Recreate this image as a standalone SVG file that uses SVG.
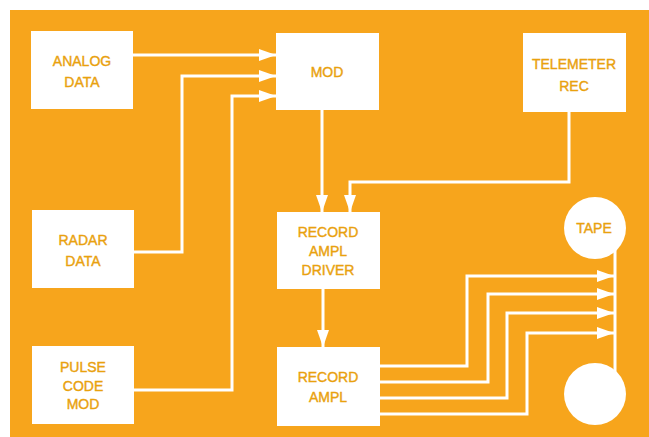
<svg xmlns="http://www.w3.org/2000/svg" width="649" height="437" viewBox="0 0 649 437">
  <defs>
    <style>
      .bg { fill: #F7A51C; }
      .box { fill: #FFFFFF; }
      .lbl { font-family: "Liberation Sans", "DejaVu Sans", sans-serif; font-size: 14px; fill: #E9A10E; stroke: #E9A10E; stroke-width: 0.4; text-anchor: middle; }
      .wire { fill: none; stroke: #FFFFFF; stroke-width: 3; stroke-linejoin: miter; }
    </style>
    <marker id="arr" markerUnits="userSpaceOnUse" markerWidth="18" markerHeight="12" refX="17" refY="6" orient="auto">
      <path d="M0,0 L17,6 L0,12 z" fill="#FFFFFF"/>
    </marker>
  </defs>

  <rect x="0" y="0" width="649" height="437" fill="#FFFFFF"/>
  <rect class="bg" x="10" y="10" width="639" height="427"/>

  <g id="connectors">
    <path class="wire" d="M133,55 H276" marker-end="url(#arr)"/>
    <path class="wire" d="M134,252 H182 V76 H276" marker-end="url(#arr)"/>
    <path class="wire" d="M134,390 H232 V96 H276" marker-end="url(#arr)"/>
    <path class="wire" d="M322,110 V212" marker-end="url(#arr)"/>
    <path class="wire" d="M569,112 V182 H350 V212" marker-end="url(#arr)"/>
    <path class="wire" d="M323,289 V347" marker-end="url(#arr)"/>
    <path class="wire" d="M380,366 H467 V276 H614" marker-end="url(#arr)"/>
    <path class="wire" d="M380,382 H488 V294 H614" marker-end="url(#arr)"/>
    <path class="wire" d="M380,398 H507 V313 H614" marker-end="url(#arr)"/>
    <path class="wire" d="M380,414 H527 V333 H614" marker-end="url(#arr)"/>
    <path class="wire" d="M615,250 V372"/>
  </g>

  <g id="analog-data">
    <rect class="box" x="31" y="31" width="102" height="78"/>
    <text class="lbl" x="82" y="66">ANALOG</text>
    <text class="lbl" x="82" y="87">DATA</text>
  </g>

  <g id="radar-data">
    <rect class="box" x="32" y="210" width="102" height="78"/>
    <text class="lbl" x="83" y="245">RADAR</text>
    <text class="lbl" x="83" y="266">DATA</text>
  </g>

  <g id="pulse-code-mod">
    <rect class="box" x="32" y="346" width="102" height="78"/>
    <text class="lbl" x="83" y="372">PULSE</text>
    <text class="lbl" x="83" y="391">CODE</text>
    <text class="lbl" x="83" y="409">MOD</text>
  </g>

  <g id="mod">
    <rect class="box" x="276" y="33" width="103" height="77"/>
    <text class="lbl" x="327" y="77">MOD</text>
  </g>

  <g id="telemeter-rec">
    <rect class="box" x="523" y="33" width="103" height="79"/>
    <text class="lbl" x="574" y="69">TELEMETER</text>
    <text class="lbl" x="574" y="91">REC</text>
  </g>

  <g id="record-ampl-driver">
    <rect class="box" x="277" y="212" width="103" height="77"/>
    <text class="lbl" x="328" y="237">RECORD</text>
    <text class="lbl" x="328" y="256">AMPL</text>
    <text class="lbl" x="328" y="275">DRIVER</text>
  </g>

  <g id="record-ampl">
    <rect class="box" x="277" y="347" width="103" height="79"/>
    <text class="lbl" x="328" y="382">RECORD</text>
    <text class="lbl" x="328" y="402">AMPL</text>
  </g>

  <g id="tape">
    <circle class="box" cx="595" cy="228" r="31"/>
    <text class="lbl" x="594" y="233">TAPE</text>
  </g>

  <g id="tape-reel">
    <circle class="box" cx="595" cy="394" r="31"/>
  </g>
</svg>
